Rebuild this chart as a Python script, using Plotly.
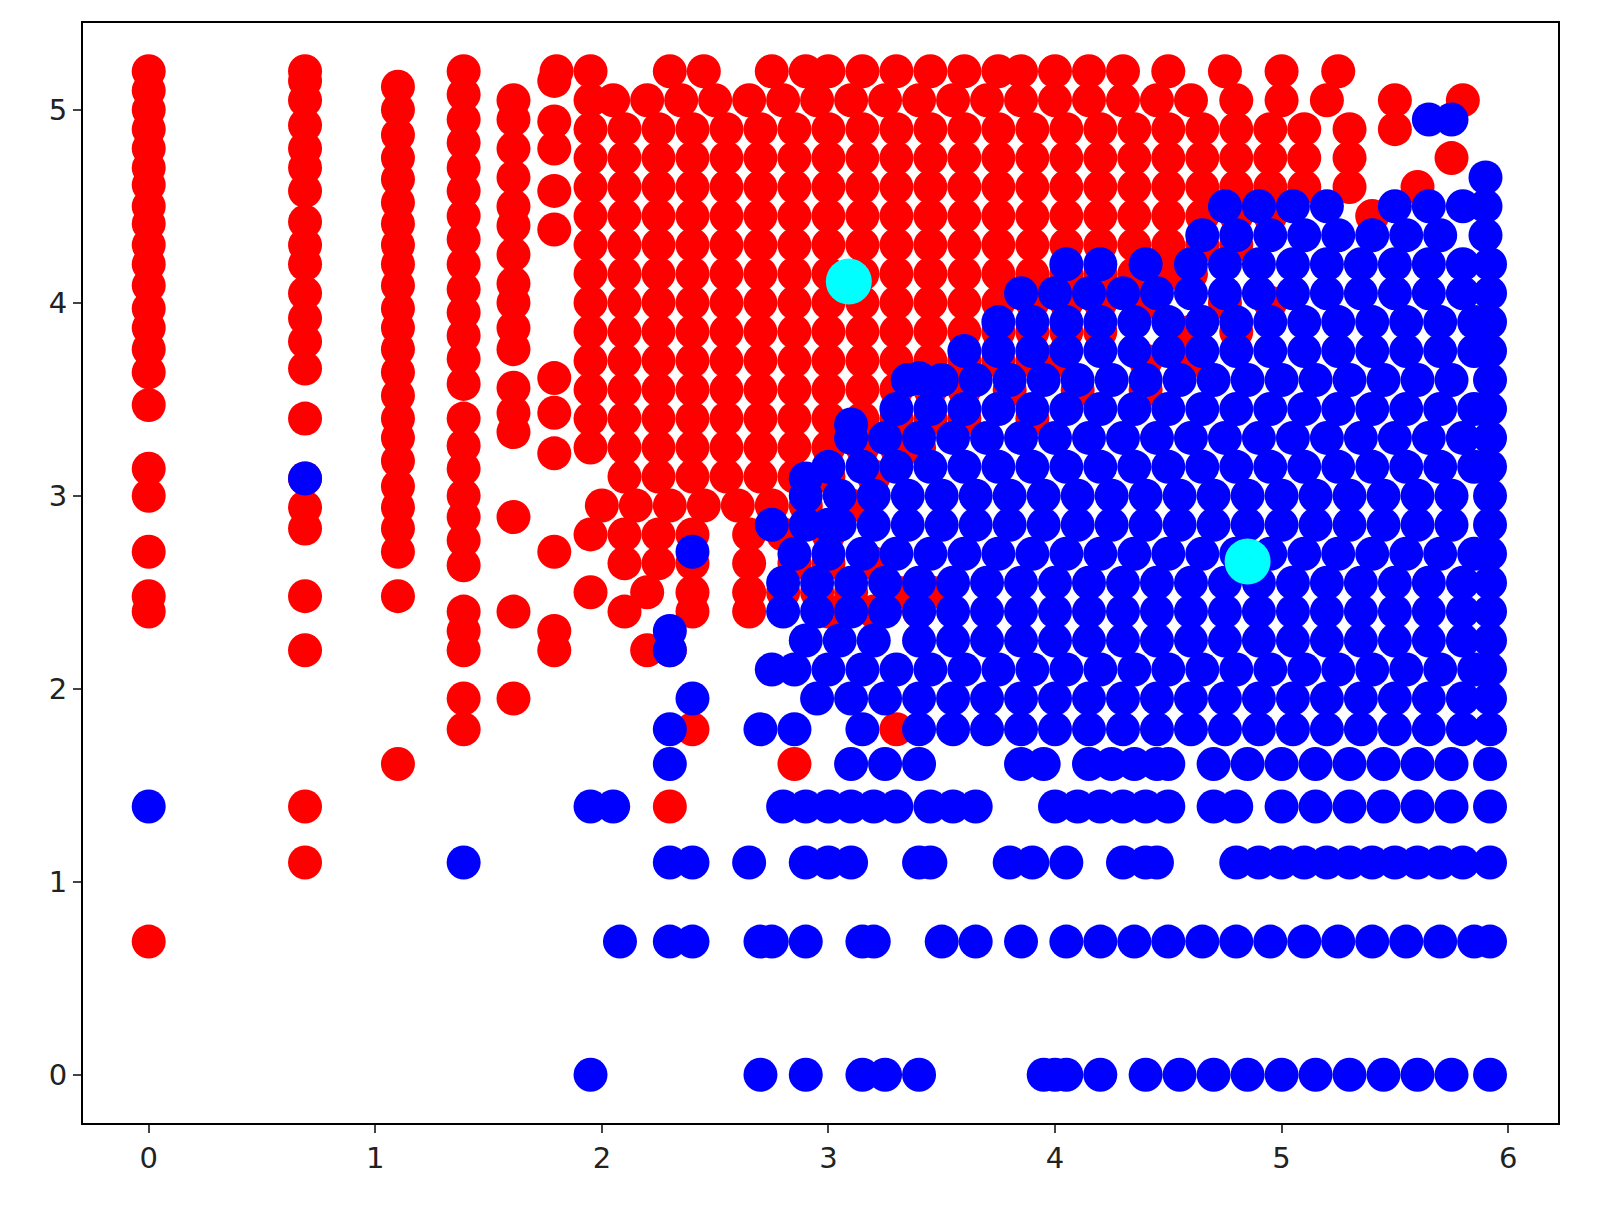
import plotly.graph_objects as go

# red cluster: columns at fixed x (x -> y values as text)
red_cols = {
    0.0: "0.69 2.40 2.48 2.71 3.00 3.14 3.47 3.64 3.76 3.87 3.97 4.09 4.20 4.30 4.41 4.50 4.61 4.70 4.80 4.90 5.00 5.10 5.20",
    0.69: "1.10 1.39 2.20 2.48 2.83 2.94 3.09 3.40 3.66 3.80 3.92 4.05 4.20 4.30 4.42 4.58 4.70 4.80 4.92 5.05 5.15 5.20",
    1.10: "1.61 2.48 2.71 2.83 2.94 3.05 3.18 3.30 3.40 3.52 3.64 3.76 3.87 3.97 4.09 4.20 4.30 4.41 4.52 4.64 4.75 4.87 5.00 5.12",
    1.39: "1.79 1.95 2.20 2.30 2.40 2.64 2.77 2.89 3.00 3.14 3.26 3.40 3.58 3.71 3.83 3.95 4.07 4.20 4.33 4.45 4.58 4.70 4.83 4.95 5.08 5.20",
    1.61: "1.95 2.40 2.89 3.33 3.43 3.56 3.76 3.87 4.00 4.10 4.25 4.40 4.50 4.65 4.80 4.95 5.05",
    1.79: "2.20 2.30 2.71 3.22 3.43 3.61 4.38 4.58 4.80 4.94 5.15",
}
# red cluster: rows at fixed y (y -> x values as text)
red_rows = {
    5.20: "1.80 1.95 2.30 2.45 2.75 2.90 3.00 3.15 3.30 3.45 3.60 3.75 3.85 4.00 4.15 4.30 4.50 4.75 5.00 5.25",
    5.05: "1.95 2.05 2.20 2.35 2.50 2.65 2.80 2.95 3.10 3.25 3.40 3.55 3.70 3.85 4.00 4.15 4.30 4.45 4.60 4.80 5.00 5.20 5.50 5.80",
    4.90: "1.95 2.10 2.25 2.40 2.55 2.70 2.85 3.00 3.15 3.30 3.45 3.60 3.75 3.90 4.05 4.20 4.35 4.50 4.65 4.80 4.95 5.10 5.30 5.50",
    4.75: "1.95 2.10 2.25 2.40 2.55 2.70 2.85 3.00 3.15 3.30 3.45 3.60 3.75 3.90 4.05 4.20 4.35 4.50 4.65 4.80 4.95 5.10 5.30 5.75",
    4.60: "1.95 2.10 2.25 2.40 2.55 2.70 2.85 3.00 3.15 3.30 3.45 3.60 3.75 3.90 4.05 4.20 4.35 4.50 4.65 4.80 4.95 5.10 5.30 5.60",
    4.45: "1.95 2.10 2.25 2.40 2.55 2.70 2.85 3.00 3.15 3.30 3.45 3.60 3.75 3.90 4.05 4.20 4.35 4.50 4.65 4.80 4.95 5.40",
    4.30: "1.95 2.10 2.25 2.40 2.55 2.70 2.85 3.00 3.15 3.30 3.45 3.60 3.75 3.90 4.05 4.20 4.35 4.50 4.65 4.80",
    4.15: "1.95 2.10 2.25 2.40 2.55 2.70 2.85 3.00 3.15 3.30 3.45 3.60 3.75 3.90 4.05 4.20 4.35 4.50 4.60",
    4.00: "1.95 2.10 2.25 2.40 2.55 2.70 2.85 3.00 3.15 3.30 3.45 3.60 3.75 3.90 4.05 4.20 4.40 4.75 4.95",
    3.85: "1.95 2.10 2.25 2.40 2.55 2.70 2.85 3.00 3.15 3.30 3.45 3.60 3.75 3.90 4.05 4.20 4.60 4.80",
    3.70: "1.95 2.10 2.25 2.40 2.55 2.70 2.85 3.00 3.15 3.30 3.45 3.60 3.75 3.90 4.00 4.40 4.60",
    3.55: "1.95 2.10 2.25 2.40 2.55 2.70 2.85 3.00 3.15 3.30 3.45 3.60 3.80 4.10 4.40",
    3.40: "1.95 2.10 2.25 2.40 2.55 2.70 2.85 3.00 3.15 3.30 3.45 3.60 3.90",
    3.25: "1.95 2.10 2.25 2.40 2.55 2.70 2.85 3.00 3.15 3.30 3.40",
    3.10: "2.10 2.25 2.40 2.55 2.70 2.85 3.00 3.20",
    2.95: "2.00 2.15 2.30 2.45 2.60 2.75 2.90 3.10",
    2.80: "1.95 2.10 2.25 2.40 2.65 2.80 3.00",
    2.65: "2.10 2.25 2.40 2.65 2.85 3.00 3.20",
    2.50: "1.95 2.20 2.40 2.65 2.80 2.95 3.10 3.30 3.45",
    2.40: "2.10 2.40 2.65 3.00 3.20 3.40",
    2.20: "2.20 2.30",
    1.79: "2.40 3.30",
    1.61: "2.85",
    1.39: "2.30",
}
# blue cluster: rows at fixed y (y -> x values as text)
blue_rows = {
    4.95: "5.65 5.75",
    4.65: "5.90",
    4.50: "4.75 4.90 5.05 5.20 5.50 5.65 5.80 5.90",
    4.35: "4.65 4.80 4.95 5.10 5.25 5.40 5.55 5.70 5.90",
    4.20: "4.05 4.20 4.40 4.60 4.75 4.90 5.05 5.20 5.35 5.50 5.65 5.80 5.92",
    4.05: "3.85 4.00 4.15 4.30 4.45 4.60 4.75 4.90 5.05 5.20 5.35 5.50 5.65 5.80 5.92",
    3.90: "3.75 3.90 4.05 4.20 4.35 4.50 4.65 4.80 4.95 5.10 5.25 5.40 5.55 5.70 5.85 5.92",
    3.75: "3.60 3.75 3.90 4.05 4.20 4.35 4.50 4.65 4.80 4.95 5.10 5.25 5.40 5.55 5.70 5.85 5.92",
    3.60: "3.35 3.50 3.65 3.80 3.95 4.10 4.25 4.40 4.55 4.70 4.85 5.00 5.15 5.30 5.45 5.60 5.75 5.92",
    3.45: "3.30 3.45 3.60 3.75 3.90 4.05 4.20 4.35 4.50 4.65 4.80 4.95 5.10 5.25 5.40 5.55 5.70 5.85 5.92",
    3.30: "3.10 3.25 3.40 3.55 3.70 3.85 4.00 4.15 4.30 4.45 4.60 4.75 4.90 5.05 5.20 5.35 5.50 5.65 5.80 5.92",
    3.15: "3.00 3.15 3.30 3.45 3.60 3.75 3.90 4.05 4.20 4.35 4.50 4.65 4.80 4.95 5.10 5.25 5.40 5.55 5.70 5.85 5.92",
    3.00: "2.90 3.05 3.20 3.35 3.50 3.65 3.80 3.95 4.10 4.25 4.40 4.55 4.70 4.85 5.00 5.15 5.30 5.45 5.60 5.75 5.92",
    2.85: "2.75 2.90 3.05 3.20 3.35 3.50 3.65 3.80 3.95 4.10 4.25 4.40 4.55 4.70 4.85 5.00 5.15 5.30 5.45 5.60 5.75 5.92",
    2.70: "2.85 3.00 3.15 3.30 3.45 3.60 3.75 3.90 4.05 4.20 4.35 4.50 4.65 4.80 4.95 5.10 5.25 5.40 5.55 5.70 5.85 5.92",
    2.55: "2.80 2.95 3.10 3.25 3.40 3.55 3.70 3.85 4.00 4.15 4.30 4.45 4.60 4.75 4.90 5.05 5.20 5.35 5.50 5.65 5.80 5.92",
    2.40: "2.80 2.95 3.10 3.25 3.40 3.55 3.70 3.85 4.00 4.15 4.30 4.45 4.60 4.75 4.90 5.05 5.20 5.35 5.50 5.65 5.80 5.92",
    2.25: "2.90 3.05 3.20 3.40 3.55 3.70 3.85 4.00 4.15 4.30 4.45 4.60 4.75 4.90 5.05 5.20 5.35 5.50 5.65 5.80 5.92",
    2.10: "2.75 2.85 3.00 3.15 3.30 3.45 3.60 3.75 3.90 4.05 4.20 4.35 4.50 4.65 4.80 4.95 5.10 5.25 5.40 5.55 5.70 5.85 5.92",
    1.95: "2.95 3.10 3.25 3.40 3.55 3.70 3.85 4.00 4.15 4.30 4.45 4.60 4.75 4.90 5.05 5.20 5.35 5.50 5.65 5.80 5.92",
    1.79: "2.70 2.85 3.15 3.40 3.55 3.70 3.85 4.00 4.15 4.30 4.45 4.60 4.75 4.90 5.05 5.20 5.35 5.50 5.65 5.80 5.92",
    1.61: "3.10 3.25 3.40 3.85 3.95 4.15 4.25 4.35 4.45 4.50 4.70 4.85 5.00 5.15 5.30 5.45 5.60 5.75 5.92",
    1.39: "1.95 2.05 2.80 2.90 3.00 3.10 3.20 3.30 3.45 3.55 3.65 4.00 4.10 4.20 4.30 4.40 4.50 4.70 4.80 5.00 5.15 5.30 5.45 5.60 5.75 5.92",
    1.10: "2.30 2.40 2.65 2.90 3.00 3.10 3.40 3.45 3.80 3.90 4.05 4.30 4.40 4.45 4.80 4.90 5.00 5.10 5.20 5.30 5.40 5.50 5.60 5.70 5.80 5.92",
    0.69: "2.08 2.30 2.40 2.70 2.75 2.90 3.15 3.20 3.50 3.65 3.85 4.05 4.20 4.35 4.50 4.65 4.80 4.95 5.10 5.25 5.40 5.55 5.70 5.85 5.92",
    0.00: "1.95 2.70 2.90 3.15 3.25 3.40 3.95 4.00 4.05 4.20 4.40 4.55 4.70 4.85 5.00 5.15 5.30 5.45 5.60 5.75 5.92",
}
blue_extra_x = [0.0, 0.69, 1.39, 2.30, 2.30, 2.40, 2.40, 2.30, 2.30, 2.90, 3.10, 3.40, 3.00]
blue_extra_y = [1.39, 3.09, 1.10, 2.20, 2.30, 2.71, 1.95, 1.79, 1.61, 3.09, 3.37, 3.61, 2.85]

centroid_x = [3.09, 4.85]
centroid_y = [4.11, 2.66]


def flatten(cols=None, rows=None):
    xs, ys = [], []
    for x, s in (cols or {}).items():
        for v in s.split():
            xs.append(x)
            ys.append(float(v))
    for y, s in (rows or {}).items():
        for v in s.split():
            xs.append(float(v))
            ys.append(y)
    return xs, ys


rx, ry = flatten(red_cols, red_rows)
bx, by = flatten(rows=blue_rows)
bx += blue_extra_x
by += blue_extra_y

fig = go.Figure()
fig.add_trace(go.Scatter(x=rx, y=ry, mode="markers",
                         marker=dict(color="red", size=34, line=dict(width=0))))
fig.add_trace(go.Scatter(x=bx, y=by, mode="markers",
                         marker=dict(color="blue", size=34, line=dict(width=0))))
fig.add_trace(go.Scatter(x=centroid_x, y=centroid_y, mode="markers",
                         marker=dict(color="cyan", size=46, line=dict(width=0))))

axis = dict(showgrid=False, zeroline=False, showline=True, mirror=True,
            linecolor="black", linewidth=2, ticks="outside", ticklen=8,
            tickwidth=2, tickfont=dict(size=29, color="#222"))
fig.update_layout(
    width=1604, height=1217, showlegend=False,
    plot_bgcolor="white", paper_bgcolor="white",
    font=dict(family="DejaVu Sans"),
    margin=dict(l=75, r=54, t=15, b=102),
    xaxis=dict(axis, range=[-0.29, 6.22], tickvals=[0, 1, 2, 3, 4, 5, 6]),
    yaxis=dict(axis, range=[-0.25, 5.45], tickvals=[0, 1, 2, 3, 4, 5]),
)
fig.write_html("out.html")
